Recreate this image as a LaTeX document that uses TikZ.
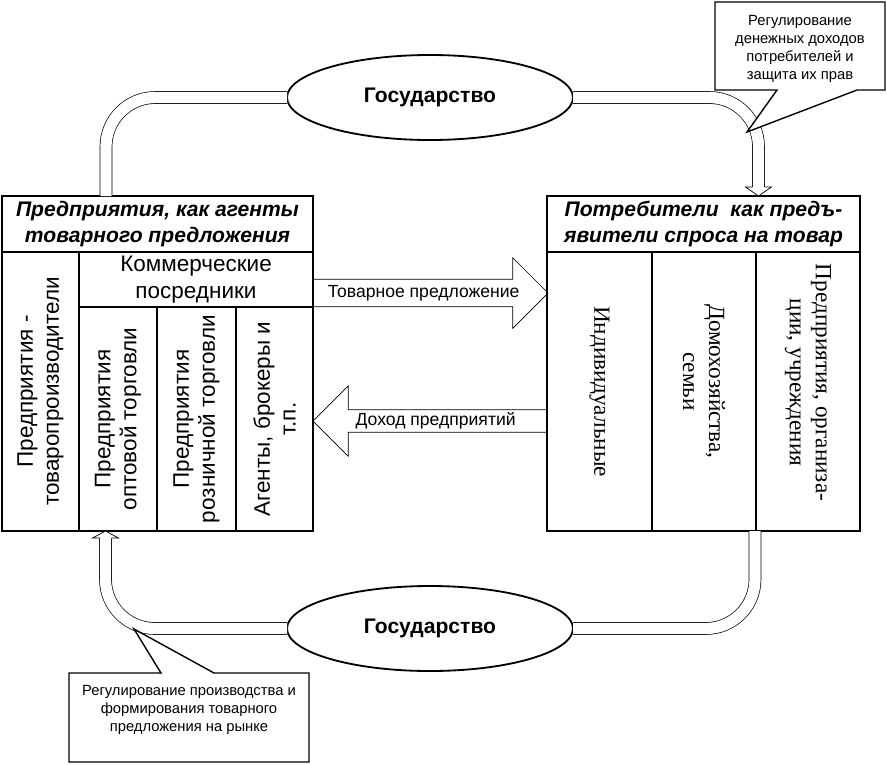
\documentclass[tikz,border=0pt]{standalone}
\usepackage{fontspec}
\setmainfont{Liberation Serif}
\setsansfont{Liberation Sans}
\usepackage{tikz}
\usetikzlibrary{shapes.geometric, shapes.arrows, calc, positioning}
\newcommand{\pxu}{0.025cm}
\newcommand{\lGov}{Государство}
\newcommand{\lFirms}{Предприятия, как агенты\\товарного предложения}
\newcommand{\lConsumers}{Потребители\ \ как предъ-\\явители спроса на товар}
\newcommand{\lSupply}{Товарное предложение}
\newcommand{\lIncome}{Доход предприятий}
\newcommand{\lRegTop}{Регулирование\\денежных доходов\\потребителей и\\защита их прав}
\newcommand{\lRegBottom}{Регулирование производства и\\формирования товарного\\предложения на рынке}

\begin{document}
\begin{tikzpicture} [
        x=\pxu, y=-\pxu,
        cell/.style={draw, line width=1pt, anchor=north west, inner sep=0pt, outer sep=0pt, align=center, font=\sffamily\fontsize{16}{19}\selectfont},
        block head/.style={cell, font=\sffamily\bfseries\itshape\fontsize{15}{18.4}\selectfont},
        sans text/.style={font=\sffamily\fontsize{16}{18.4}\selectfont, align=center, inner sep=0pt, rotate=90},
        serif text/.style={font=\fontsize{16.5}{18.5}\selectfont, align=center, inner sep=0pt, rotate=-90},
        gov/.style={ellipse, draw, line width=1.3pt, fill=white, inner sep=0pt, outer sep=0pt, minimum width=286*\pxu, minimum height=85*\pxu, font=\sffamily\bfseries\fontsize{15}{18}\selectfont},
        tube/.style={double, double distance=8pt, line width=0.5pt, rounded corners=35pt},
        tube head/.style={fill=white, line width=0.5pt},
        flow/.style={single arrow, draw, line width=0.5pt, outer sep=0pt, single arrow head indent=0pt, inner xsep=2pt, text height=9pt, text depth=2.6pt, font=\sffamily\fontsize{12.5}{15}\selectfont},
        note/.style={draw, fill=white, line width=1pt},
        note text/.style={font=\sffamily\fontsize{10.5}{12.8}\selectfont, align=center, inner sep=0pt}
    ]
    \useasboundingbox (0,0) rectangle (887,764);

    % firms
    \node[block head, minimum width=311*\pxu, minimum height=56*\pxu] (firms) at (2,196) {\lFirms};
    \node[cell, minimum width=77*\pxu, minimum height=279*\pxu] (producers) at (firms.south west) {};
    \node[cell, minimum width=234*\pxu, minimum height=55*\pxu] (traders) at (producers.north east) {Коммерческие\\посредники};
    \node[cell, minimum width=78*\pxu, minimum height=224*\pxu] (wholesale) at (traders.south west) {};
    \node[cell, minimum width=79*\pxu, minimum height=224*\pxu] (retail) at (wholesale.north east) {};
    \node[cell, minimum width=77*\pxu, minimum height=224*\pxu] (brokers) at (retail.north east) {};

    \node[sans text] (producers text) at (producers) {Предприятия -\\товаропроизводители};
    \node[sans text] (wholesale text) at (wholesale) {Предприятия\\оптовой торговли};
    \node[sans text] (retail text) at (retail) {Предприятия\\розничной торговли};
    \node[sans text] (brokers text) at (brokers) {Агенты, брокеры и\\т.п.};

    % consumers
    \node[block head, minimum width=313*\pxu, minimum height=56*\pxu] (consumers) at (547,196) {\lConsumers};
    \node[cell, minimum width=105*\pxu, minimum height=279*\pxu] (private) at (consumers.south west) {};
    \node[cell, minimum width=104*\pxu, minimum height=279*\pxu] (households) at (private.north east) {};
    \node[cell, minimum width=104*\pxu, minimum height=279*\pxu] (institutions) at (households.north east) {};

    \node[serif text] (private text) at (private) {Индивидуальные};
    \node[serif text] (households text) at ($(households)+(0,-10)$) {Домохозяйства,\\семьи};
    \node[serif text] (institutions text) at ($(institutions)+(0,-9)$) {Предприятия, организа-\\ции, учреждения};

    % flows between the blocks
    \node[flow, minimum height=235*\pxu, inner ysep=3.7pt, single arrow head extend=15.25pt, anchor=tail] (supply) at ($(firms.north east)+(0,97)$) {\lSupply};
    \node[flow, shape border rotate=180, minimum height=234*\pxu, inner ysep=2pt, single arrow head extend=17pt, anchor=tail] (income) at ($(consumers.north west)+(0,225)$) {\lIncome};

    % state
    \node[gov] (gov top) at (430,97.5) {\lGov};
    \node[gov] (gov bottom) at (430,628.5) {\lGov};

    \coordinate (firms in) at ($(firms.north west)+(104,0)$);
    \coordinate (firms out) at ($(producers.south west)+(103.5,7)$);
    \coordinate (consumers in) at ($(consumers.north west)+(211.5,-9)$);
    \coordinate (consumers out) at ($(institutions.south west)+(-1,0)$);

    \draw[tube] (gov top.west) -| (firms in);
    \draw[tube] (gov top.east) -| (consumers in);
    \draw[tube] (gov bottom.west) -| (firms out);
    \draw[tube] (gov bottom.east) -| (consumers out);

    \draw[tube head] (consumers in) ++(-6,0) -- ++(-7,0) -- ++(13,9) -- ++(13,-9) -- ++(-7,0);
    \draw[tube head] (firms out) ++(-6,0) -- ++(-7,0) -- ++(13,-7) -- ++(13,7) -- ++(-7,0);

    % regulation notes
    \coordinate (reg top) at (800,49);
    \coordinate (reg top tip) at (747,132);
    \draw[note] ($(reg top)+(-85,-47)$) -| ($(reg top)+(85,41)$) -- ($(reg top)+(57,41)$) -- (reg top tip) -- ($(reg top)+(-23,41)$) -- ($(reg top)+(-85,41)$) -- cycle;
    \node[note text] (reg top text) at (reg top) {\lRegTop};

    \coordinate (reg bottom) at (189,710);
    \coordinate (reg bottom tip) at (134,629);
    \draw[note] ($(reg bottom)+(-120,-37)$) -- ($(reg bottom)+(-28,-37)$) -- (reg bottom tip) -- ($(reg bottom)+(25,-37)$) -- ($(reg bottom)+(120,-37)$) |- ($(reg bottom)+(-120,52)$) -- cycle;
    \node[note text] (reg bottom text) at (reg bottom) {\lRegBottom};

\end{tikzpicture}
\end{document}
